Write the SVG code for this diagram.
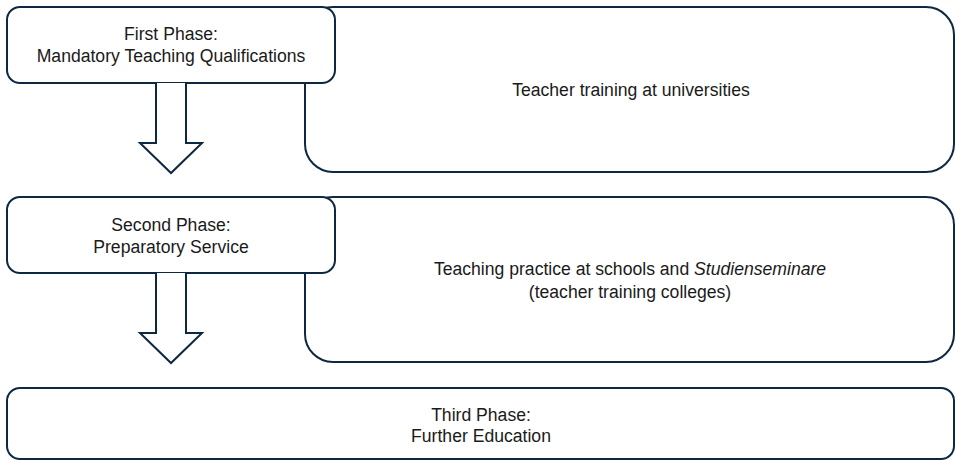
<svg xmlns="http://www.w3.org/2000/svg" width="956" height="461" viewBox="0 0 956 461">
  <style>
    .box { fill: #ffffff; stroke: #0e2841; stroke-width: 2; }
    .arrow { fill: #ffffff; stroke: #0e2841; stroke-width: 2; stroke-linejoin: miter; }
    text { font-family: "Liberation Sans", Arial, sans-serif; font-size: 17.6px; fill: #1a1a1a; text-anchor: middle; }
    .it { font-style: italic; }
  </style>
  <rect width="956" height="461" fill="#ffffff"/>

  <!-- detail panels behind the phase boxes -->
  <g id="detail-1">
    <rect class="box" x="305" y="7" width="649" height="165" rx="28" ry="28"/>
    <text x="631" y="96">Teacher training at universities</text>
  </g>
  <g id="detail-2">
    <rect class="box" x="305" y="197" width="649" height="165" rx="28" ry="28"/>
    <text x="630" y="275">Teaching practice at schools and <tspan class="it">Studienseminare</tspan></text>
    <text x="630" y="298">(teacher training colleges)</text>
  </g>

  <!-- phase boxes -->
  <g id="phase-1">
    <rect class="box" x="7" y="7" width="328" height="76" rx="13" ry="13"/>
    <text x="171" y="40">First Phase:</text>
    <text x="171" y="62">Mandatory Teaching Qualifications</text>
  </g>
  <g id="phase-2">
    <rect class="box" x="7" y="197" width="328" height="76" rx="13" ry="13"/>
    <text x="171" y="231">Second Phase:</text>
    <text x="171" y="253">Preparatory Service</text>
  </g>
  <g id="phase-3">
    <rect class="box" x="7" y="388" width="947" height="71" rx="13" ry="13"/>
    <text x="481" y="421">Third Phase:</text>
    <text x="481" y="442">Further Education</text>
  </g>

  <!-- block arrows between phases -->
  <g id="connectors">
    <path class="arrow" d="M156 83 V143 H140 L171 173 L202 143 H186 V83"/>
    <path class="arrow" d="M156 273 V333 H140 L171 363 L202 333 H186 V273"/>
  </g>
</svg>
